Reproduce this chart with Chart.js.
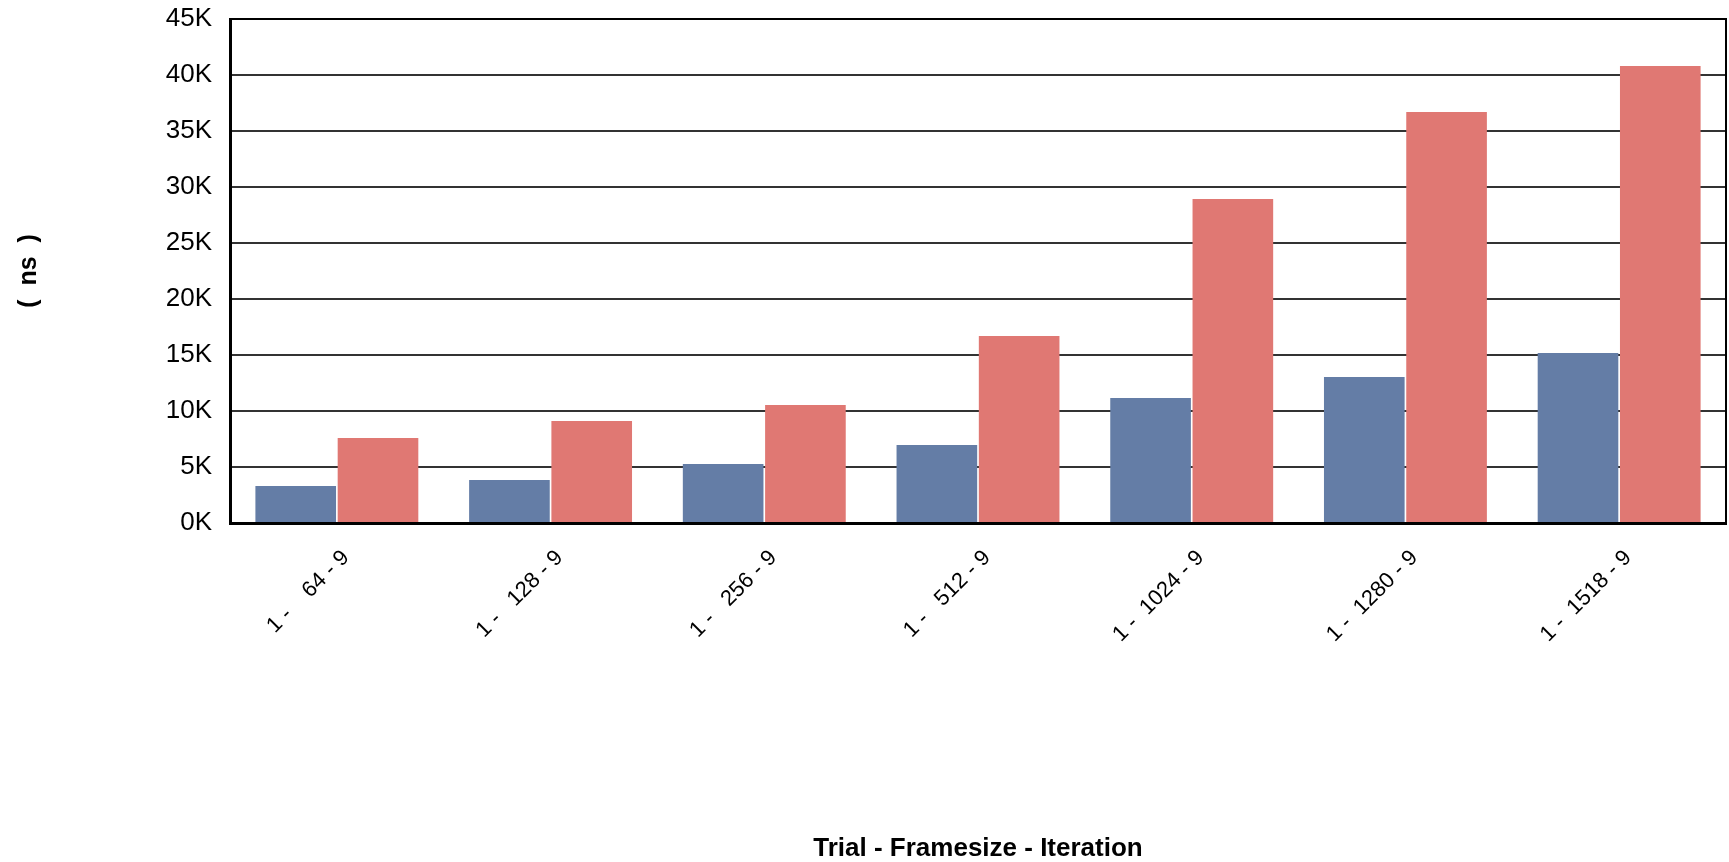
<!DOCTYPE html>
<html>
<head>
<meta charset="utf-8">
<script src="https://cdn.jsdelivr.net/npm/chart.js@4"></script>
<style>
  body { margin: 0; background: #fff; }
  #wrap { width: 1729px; height: 862px; position: relative; }
</style>
</head>
<body>
<div id="wrap"><canvas id="latencyChart"></canvas></div>
<script>
// x categories (trial - framesize - iteration)
const categories = ['1 -    64 - 9', '1 -   128 - 9', '1 -   256 - 9', '1 -   512 - 9',
                    '1 -  1024 - 9', '1 -  1280 - 9', '1 -  1518 - 9'];
// values in ns
const blueSeries = [3300, 3850, 5270, 6960, 11160, 13040, 15180];
const redSeries = [7590, 9110, 10540, 16700, 28930, 36700, 40800];
const yTicks = [0, 5000, 10000, 15000, 20000, 25000, 30000, 35000, 40000, 45000];

const FONT = "'Liberation Sans', Arial, sans-serif";

// thin frame on top and right of the plot area
const framePlugin = {
    id: 'frame',
    afterDatasetsDraw(chart) {
        const { ctx, chartArea } = chart;
        ctx.save();
        ctx.strokeStyle = '#000';
        ctx.lineWidth = 2;
        ctx.beginPath();
        ctx.moveTo(chartArea.left, chartArea.top);
        ctx.lineTo(chartArea.right, chartArea.top);
        ctx.lineTo(chartArea.right, chartArea.bottom);
        ctx.stroke();
        ctx.restore();
    }
};

const ctx = document.getElementById('latencyChart').getContext('2d');
const latencyChart = new Chart(ctx, {
    type: 'bar',
    data: {
        labels: categories,
        datasets: [{
            data: blueSeries,
            backgroundColor: '#647DA6',
            barPercentage: 0.98,
            categoryPercentage: 0.77
        }, {
            data: redSeries,
            backgroundColor: '#E07873',
            barPercentage: 0.98,
            categoryPercentage: 0.77
        }]
    },
    options: {
        responsive: true,
        maintainAspectRatio: false,
        animation: false,
        layout: { padding: { top: 19, right: 3, left: 0, bottom: 0 } },
        plugins: {
            legend: { display: false },
            tooltip: { enabled: false }
        },
        scales: {
            x: {
                grid: { display: false },
                border: { display: true, color: '#000', width: 3 },
                ticks: {
                    color: '#000',
                    font: { family: FONT, size: 22 },
                    minRotation: 45,
                    maxRotation: 45,
                    autoSkip: false,
                    padding: 14,
                    labelOffset: 9
                },
                title: {
                    display: true,
                    text: 'Trial - Framesize - Iteration',
                    color: '#000',
                    font: { family: FONT, size: 26, weight: 'bold', lineHeight: 1 },
                    padding: { top: 0, bottom: 0 }
                },
                afterFit(scale) { scale.height = 339; }
            },
            y: {
                min: 0,
                max: 45000,
                afterBuildTicks(scale) { scale.ticks = yTicks.map(v => ({ value: v })); },
                grid: { color: '#333', lineWidth: 2, drawTicks: false },
                border: { display: true, color: '#000', width: 3 },
                ticks: {
                    color: '#000',
                    font: { family: FONT, size: 26 },
                    padding: 18,
                    callback: v => (v / 1000) + 'K'
                },
                title: {
                    display: true,
                    text: '(  ns  )',
                    color: '#000',
                    font: { family: FONT, size: 25, weight: 'bold' },
                    padding: { top: 14, bottom: 0 }
                },
                afterFit(scale) {
                    scale.width = 230;
                    // the top label overhang fits inside the layout padding
                    scale.paddingTop = 0;
                    scale.paddingBottom = 0;
                }
            }
        }
    },
    plugins: [framePlugin]
});
</script>
</body>
</html>
